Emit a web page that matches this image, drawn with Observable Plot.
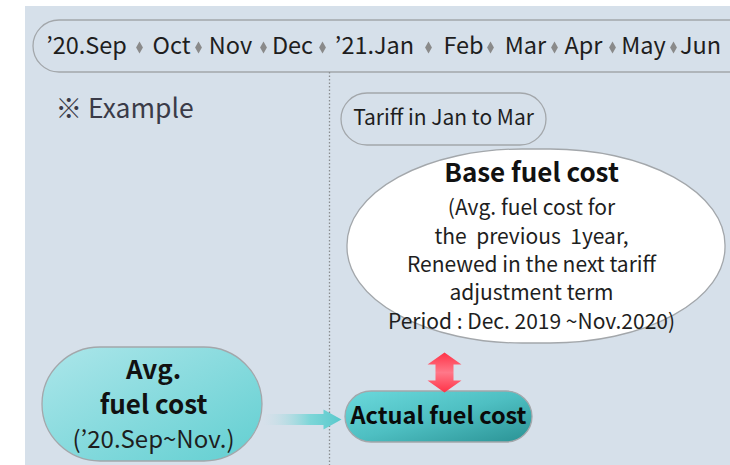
<!DOCTYPE html>
<html>
<head>
<meta charset="utf-8">
<script src="https://cdn.jsdelivr.net/npm/d3@7"></script>
<script src="https://cdn.jsdelivr.net/npm/@observablehq/plot@0.6"></script>
<style>
  html, body { margin: 0; padding: 0; background: #ffffff; }
  #chart svg text { white-space: pre; }
</style>
</head>
<body>
<div id="chart"></div>
<script>
// ---- text content ----
const months = ["’20.Sep", "Oct", "Nov", "Dec", "’21.Jan", "Feb", "Mar", "Apr", "May", "Jun"];
const exampleLabel = "※ Example";
const tariffLabel = "Tariff in Jan to Mar";
const baseTitle = "Base fuel cost";
const baseLines = ["(Avg. fuel cost for", "the  previous  1year,", "Renewed in the next tariff", "adjustment term", "Period : Dec. 2019 ~Nov.2020)"];
const avgTitleLines = ["Avg.", "fuel cost"];
const avgSub = "(’20.Sep~Nov.)";
const actualLabel = "Actual fuel cost";

// ---- layout (diagram geometry) ----
const monthX = [86, 171, 230, 292, 374, 463, 525, 583, 643, 700];
const sepX = [139, 198, 263, 322, 428, 490, 554, 612, 673];
const baseLineY = [208, 237, 265, 293, 322];
const avgTitleY = [370, 405];

const boxes = [
  {x1: 25, x2: 730, y1: 6, y2: 470},
];
const pills = [
  {x1: 33, x2: 760, y1: 20, y2: 72},
  {x1: 341, x2: 546, y1: 93, y2: 145},
];
const redArrow = [
  [444, 352], [461, 364], [453, 364], [453, 380], [461, 380], [444, 392],
  [427, 380], [435, 380], [435, 364], [427, 364], [444, 352]
].map(([x, y]) => ({x, y}));
const tealArrow = [
  [262, 413.5], [323, 413.5], [323, 409], [341, 419], [323, 429], [323, 424.5], [262, 424.5], [262, 413.5]
].map(([x, y]) => ({x, y}));

const font = "'Noto Sans CJK KR', 'Noto Sans', sans-serif";

const plot = Plot.plot({
  width: 730,
  height: 465,
  margin: 0,
  x: {domain: [0, 730], range: [0, 730], axis: null},
  y: {domain: [0, 465], range: [0, 465], axis: null},
  style: {fontFamily: font, background: "#ffffff", overflow: "hidden"},
  marks: [
    Plot.rect(boxes, {x1: "x1", x2: "x2", y1: "y1", y2: "y2", fill: "#d6e0ea"}),
    // timeline and tariff pills
    Plot.rect(pills, {x1: "x1", x2: "x2", y1: "y1", y2: "y2", fill: "none", stroke: "#a3a7ab", strokeWidth: 1.3, rx: 26, ry: 26}),
    // dotted divider
    Plot.ruleX([329], {y1: 72, y2: 465, stroke: "#8a8d90", strokeWidth: 1.3, strokeDasharray: "1.5,2"}),
    // big ellipse
    Plot.rect([{x1: 347, x2: 725, y1: 149, y2: 343}], {x1: "x1", x2: "x2", y1: "y1", y2: "y2", fill: "#ffffff", stroke: "#a3a7ab", strokeWidth: 1.3, rx: 175, ry: 96}),
    // left pill
    Plot.rect([{x1: 42, x2: 262, y1: 347, y2: 461}], {x1: "x1", x2: "x2", y1: "y1", y2: "y2", fill: "url(#gLight)", stroke: "#a3a7ab", strokeWidth: 1.3, rx: 58, ry: 57}),
    // actual pill
    Plot.rect([{x1: 345, x2: 532, y1: 391, y2: 442}], {x1: "x1", x2: "x2", y1: "y1", y2: "y2", fill: "url(#gDark)", stroke: "#a3a7ab", strokeWidth: 1.3, rx: 26, ry: 25.5}),
    // arrows
    Plot.line(tealArrow, {x: "x", y: "y", fill: "url(#gArrow)", stroke: "none"}),
    Plot.line(redArrow, {x: "x", y: "y", fill: "url(#gRed)", stroke: "none"}),
    // timeline text
    Plot.text(months, {x: (d, i) => monthX[i], y: () => 46, text: d => d, fontSize: 23.5, fill: "#1e1e1e"}),
    Plot.dot(sepX, {x: d => d, y: () => 47, symbol: "diamond", r: 3.6, fill: "#8a8a8a", stroke: "none"}),
    // labels
    Plot.text([exampleLabel], {x: () => 55, y: () => 109, text: d => d, textAnchor: "start", fontSize: 26.5, fill: "#3a3b48"}),
    Plot.text([tariffLabel], {x: () => 443, y: () => 118, text: d => d, fontSize: 21, fill: "#1e1e1e"}),
    Plot.text([baseTitle], {x: () => 531, y: () => 173, text: d => d, fontSize: 26, fontWeight: "bold", fill: "#111"}),
    Plot.text(baseLines, {x: () => 531, y: (d, i) => baseLineY[i], text: d => d, fontSize: 21, fill: "#1e1e1e"}),
    Plot.text(avgTitleLines, {x: () => 153, y: (d, i) => avgTitleY[i], text: d => d, fontSize: 26, fontWeight: "bold", fill: "#111"}),
    Plot.text([avgSub], {x: () => 153, y: () => 440, text: d => d, fontSize: 24, fill: "#1e1e1e"}),
    Plot.text([actualLabel], {x: () => 438, y: () => 416, text: d => d, fontSize: 23.5, fontWeight: "bold", fill: "#0a0a0a"}),
  ]
});

// gradient definitions
const svg = d3.select(plot);
const defs = svg.insert("defs", ":first-child");
function grad(id, x2, y2, stops) {
  const g = defs.append("linearGradient").attr("id", id).attr("x1", 0).attr("y1", 0).attr("x2", x2).attr("y2", y2);
  stops.forEach(([o, c, op]) => g.append("stop").attr("offset", o).attr("stop-color", c).attr("stop-opacity", op ?? 1));
}
grad("gLight", 1, 1, [[0, "#ace6ea"], [1, "#62cfd1"]]);
grad("gDark", 1, 1, [[0, "#6bd9dc"], [0.5, "#4ebfc2"], [1, "#2a9294"]]);
grad("gArrow", 1, 0, [[0, "#d6e0ea", 0.2], [0.6, "#7dd6d8"], [1, "#58c9cc"]]);
grad("gRed", 0, 1, [[0, "#ff3347"], [0.5, "#ff7889"], [1, "#ff3347"]]);

document.getElementById("chart").append(plot);
</script>
</body>
</html>
